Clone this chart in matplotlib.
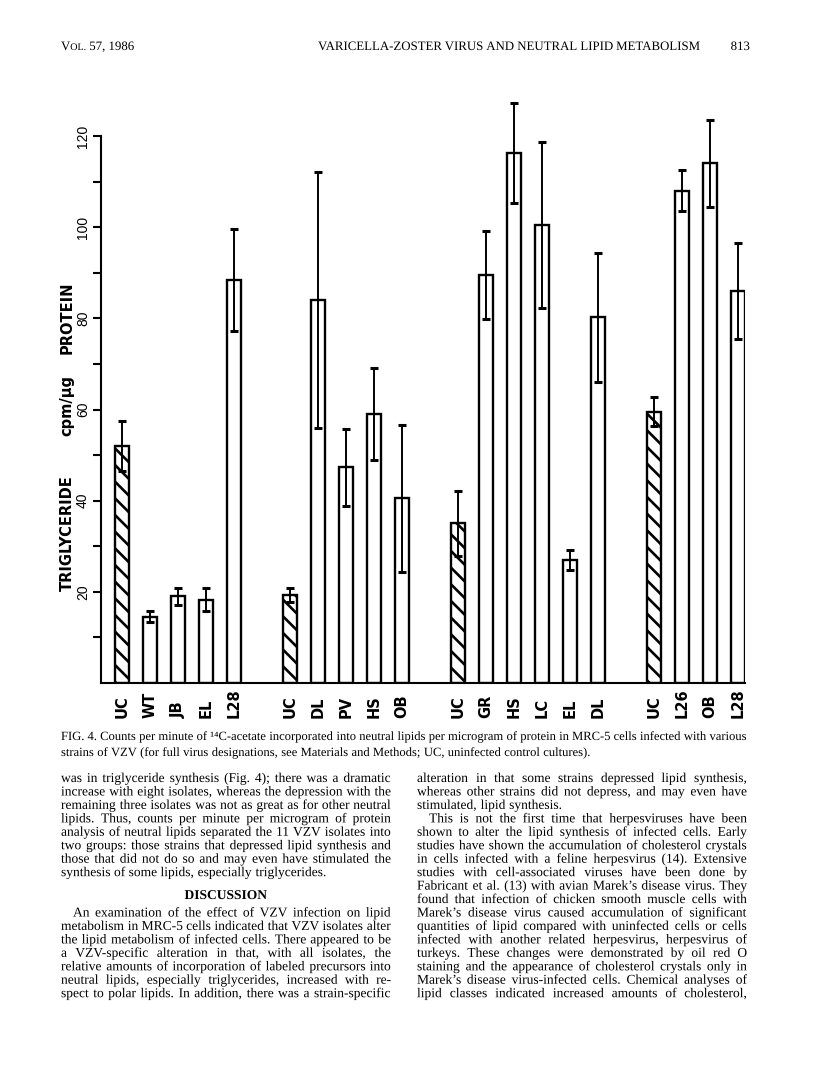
import matplotlib
matplotlib.use('Agg')
import matplotlib.pyplot as plt
import matplotlib.patheffects as pe
from matplotlib.transforms import IdentityTransform
import numpy as np

# --- chart data (cpm/ug protein, mean and error) ---
labels_1 = ['UC', 'WT', 'JB', 'EL', 'L28']
means_1 = [52.0, 14.5, 19.0, 18.3, 88.5]
errs_1 = [5.5, 1.2, 1.8, 2.6, 11.2]

labels_2 = ['UC', 'DL', 'PV', 'HS', 'OB']
means_2 = [19.3, 84.0, 47.3, 59.0, 40.5]
errs_2 = [1.5, 28.0, 8.5, 10.0, 16.2]

labels_3 = ['UC', 'GR', 'HS', 'LC', 'EL', 'DL']
means_3 = [35.0, 89.5, 116.3, 100.4, 27.0, 80.2]
errs_3 = [7.2, 9.6, 11.0, 18.2, 2.2, 14.2]

labels_4 = ['UC', 'L26', 'OB', 'L28']
means_4 = [59.5, 108.0, 114.0, 86.0]
errs_4 = [3.2, 4.5, 9.5, 10.5]

yticks = [20, 40, 60, 80, 100, 120]

header_title = 'VARICELLA-ZOSTER VIRUS AND NEUTRAL LIPID METABOLISM'
header_page = '813'

caption = [
    'FIG. 4. Counts per minute of \u00b9\u2074C-acetate incorporated into neutral lipids per microgram of protein in MRC-5 cells infected with various',
    'strains of VZV (for full virus designations, see Materials and Methods; UC, uninfected control cultures).',
]

left_para1 = [
    'was in triglyceride synthesis (Fig. 4); there was a dramatic',
    'increase with eight isolates, whereas the depression with the',
    'remaining three isolates was not as great as for other neutral',
    'lipids. Thus, counts per minute per microgram of protein',
    'analysis of neutral lipids separated the 11 VZV isolates into',
    'two groups: those strains that depressed lipid synthesis and',
    'those that did not do so and may even have stimulated the',
    'synthesis of some lipids, especially triglycerides.',
]
left_para2 = [
    'An examination of the effect of VZV infection on lipid',
    'metabolism in MRC-5 cells indicated that VZV isolates alter',
    'the lipid metabolism of infected cells. There appeared to be',
    'a VZV-specific alteration in that, with all isolates, the',
    'relative amounts of incorporation of labeled precursors into',
    'neutral lipids, especially triglycerides, increased with re-',
    'spect to polar lipids. In addition, there was a strain-specific',
]
right_para1 = [
    'alteration in that some strains depressed lipid synthesis,',
    'whereas other strains did not depress, and may even have',
    'stimulated, lipid synthesis.',
]
right_para2 = [
    'This is not the first time that herpesviruses have been',
    'shown to alter the lipid synthesis of infected cells. Early',
    'studies have shown the accumulation of cholesterol crystals',
    'in cells infected with a feline herpesvirus (14). Extensive',
    'studies with cell-associated viruses have been done by',
    'Fabricant et al. (13) with avian Marek\u2019s disease virus. They',
    'found that infection of chicken smooth muscle cells with',
    'Marek\u2019s disease virus caused accumulation of significant',
    'quantities of lipid compared with uninfected cells or cells',
    'infected with another related herpesvirus, herpesvirus of',
    'turkeys. These changes were demonstrated by oil red O',
    'staining and the appearance of cholesterol crystals only in',
    'Marek\u2019s disease virus-infected cells. Chemical analyses of',
    'lipid classes indicated increased amounts of cholesterol,',
]

W, H = 816, 1077
plt.rcParams['hatch.linewidth'] = 1.9
plt.rcParams['font.family'] = ['DejaVu Sans']

fig = plt.figure(figsize=(W / 100, H / 100), dpi=100)
fig.patch.set_facecolor('white')
rend = fig.canvas.get_renderer()
SERIF = ['Liberation Serif', 'DejaVu Serif']
# drawing words through a path effect keeps every word on an exact baseline
AS_PATH = [pe.Normal()]

# --- the bar chart ---
ax = fig.add_axes([101 / W, (H - 683) / H, 644 / W, (683 - 136) / H])
ax.set_xlim(-0.75, 22.25)
ax.set_ylim(0, 120)

groups = [(labels_1, means_1, errs_1), (labels_2, means_2, errs_2),
          (labels_3, means_3, errs_3), (labels_4, means_4, errs_4)]
start = 0
for labs, m, e in groups:
    pos = np.arange(start, start + len(m))
    # control bar hatched, virus strains open
    ax.bar(pos[:1], m[:1], width=0.52, color='white', edgecolor='black',
           linewidth=1.7, hatch='\\\\', zorder=2)
    ax.bar(pos[1:], m[1:], width=0.52, color='white', edgecolor='black',
           linewidth=1.7, zorder=2)
    eb = ax.errorbar(pos, m, yerr=e, fmt='none', ecolor='black', elinewidth=1.4,
                     capsize=3, capthick=2.2, zorder=3)
    for art in list(eb.lines[1]) + list(eb.lines[2]):
        art.set_clip_on(False)
    for p, lab in zip(pos, labs):
        ax.text(p, -(718 - 683) / 547, lab, transform=ax.get_xaxis_transform(),
                rotation=90, rotation_mode='anchor', ha='left', va='center',
                fontsize=10.5, fontweight='bold')
    start += len(m) + 1

for s in ['top', 'right']:
    ax.spines[s].set_visible(False)
ax.spines['left'].set_linewidth(1.5)
ax.spines['bottom'].set_linewidth(1.5)
ax.set_xticks([])
ax.set_yticks(yticks)
ax.set_yticklabels([str(v) for v in yticks], rotation=90, va='center',
                   fontsize=10, family='Liberation Sans')
ax.set_yticks(np.arange(10, 120, 20), minor=True)
ax.tick_params(axis='y', which='both', direction='out', length=6, width=1.5, pad=2)

# y-axis title, three words spread along the axis
for word, yc in [('TRIGLYCERIDE', 533), ('cpm/\u00b5g', 405), ('PROTEIN', 318)]:
    fig.text(67, H - yc, word, transform=IdentityTransform(),
             rotation=90, ha='center', va='center', fontsize=10.5, fontweight='bold')


# --- page text ---
def measure(s, **kw):
    t = fig.text(0, 0, s, transform=IdentityTransform(), **kw)
    w = t.get_window_extent(rend).width
    t.remove()
    return w


def put_line(line, x0, x1, y, justify, size, **extra):
    kw = dict(family=SERIF, fontsize=size, **extra)
    words = line.split(' ')
    widths = [measure(w, **kw) for w in words]
    if justify and len(words) > 1:
        gap = (x1 - x0 - sum(widths)) / (len(words) - 1)
    else:
        gap = measure('a a', **kw) - measure('aa', **kw)
    x = x0
    for w, wd in zip(words, widths):
        fig.text(x, H - y, w, transform=IdentityTransform(), va='baseline',
                 path_effects=AS_PATH, **kw)
        x += wd + gap


def fit_size(lines, width, base=10):
    return base * min(width / measure(l, family=SERIF, fontsize=base) for l in lines)


LX0, LX1 = 61, 391
RX0, RX1 = 417, 747
IND = 12
LH = 13.45
Y0 = 782

body = left_para1[:-1] + left_para2 + right_para1[:-1] + right_para2
fs = min(fit_size(body, LX1 - LX0), fit_size(body, RX1 - RX0)) * 0.995


def draw_para(lines, x0, x1, y, indent, last_justified):
    for i, line in enumerate(lines):
        xs = x0 + (indent if i == 0 else 0)
        just = (i < len(lines) - 1) or last_justified
        put_line(line, xs, x1, y + i * LH, just, fs)


draw_para(left_para1, LX0, LX1, Y0, 0, False)
fig.text((LX0 + LX1) / 2, H - (Y0 + 8.7 * LH), 'DISCUSSION', transform=IdentityTransform(),
         ha='center', va='baseline', family=SERIF, fontsize=fs, fontweight='bold',
         path_effects=AS_PATH)
draw_para(left_para2, LX0, LX1, Y0 + 10 * LH, IND, True)
draw_para(right_para1, RX0, RX1, Y0, 0, False)
draw_para(right_para2, RX0, RX1, Y0 + 3 * LH, IND, True)

# caption
cfs = fit_size(caption[:1], RX1 - LX0) * 0.995
put_line(caption[0], LX0, RX1, 740, True, cfs)
put_line(caption[1], LX0, RX1, 756, False, cfs)

# running head
hfs = fit_size([header_title], 700 - 318)
put_line(header_title, 318, 700, 50, True, hfs)
put_line(header_page, 750 - measure(header_page, family=SERIF, fontsize=hfs), 750, 50, False, hfs)
x = 61
for part, size in [('V', hfs), ('OL.', hfs * 0.78)]:
    put_line(part, x, x, 50, False, size)
    x += measure(part, family=SERIF, fontsize=size)
put_line('57, 1986', x + measure('a a', family=SERIF, fontsize=hfs)
         - measure('aa', family=SERIF, fontsize=hfs), 300, 50, False, hfs)

fig.savefig('out.png', dpi=100, facecolor='white')
